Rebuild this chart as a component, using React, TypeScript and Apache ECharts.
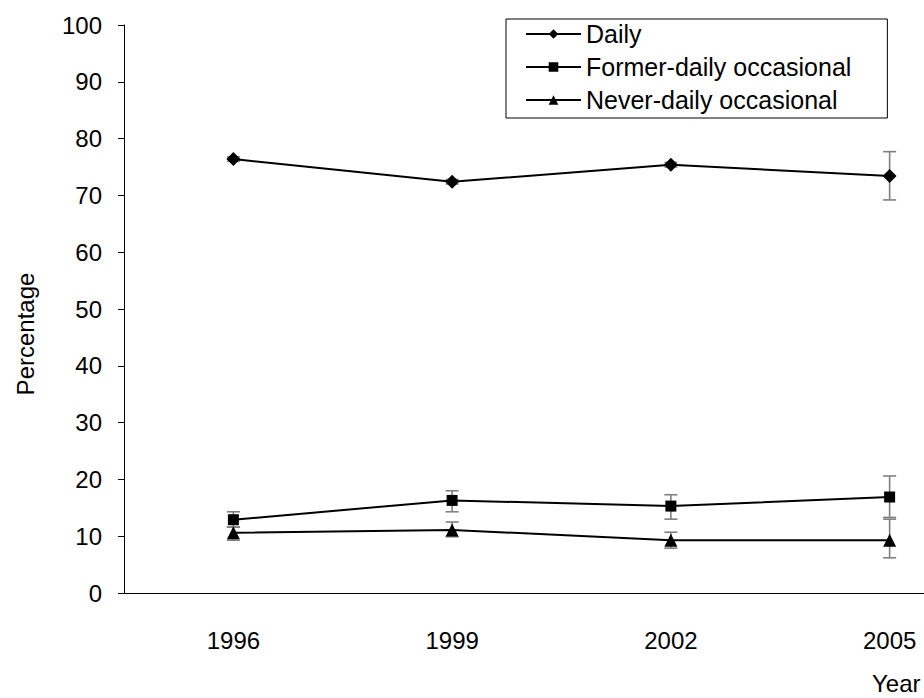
import React, { useEffect, useRef } from "react";
import * as echarts from "echarts";

const years = ["1996", "1999", "2002", "2005"];
const yTicks = [0, 10, 20, 30, 40, 50, 60, 70, 80, 90, 100];

const dailyValues = [76.4, 72.4, 75.4, 73.4];
const dailyLow = [76.0, 72.0, 75.0, 69.2];
const dailyHigh = [76.8, 72.8, 75.8, 77.7];

const formerValues = [12.9, 16.3, 15.3, 16.9];
const formerLow = [11.6, 14.3, 13.0, 13.3];
const formerHigh = [14.3, 18.0, 17.3, 20.6];

const neverValues = [10.6, 11.1, 9.3, 9.3];
const neverLow = [9.3, 9.9, 7.9, 6.2];
const neverHigh = [11.6, 12.5, 10.7, 13.0];

const seriesNames = ["Daily", "Former-daily occasional", "Never-daily occasional"];

const FONT = "'Liberation Sans', Arial, sans-serif";

export default function App() {
  const ref = useRef<HTMLDivElement>(null);
  useEffect(() => {
    if (!ref.current) return;
    const chart = echarts.init(ref.current, null, { renderer: "svg" });

    const errData: number[][] = [];
    [[dailyLow, dailyHigh], [formerLow, formerHigh], [neverLow, neverHigh]].forEach(([lo, hi]) => {
      years.forEach((_, i) => errData.push([i, lo[i], hi[i]]));
    });

    const lineSeries = (name: string, data: number[], symbol: string, size: number) => ({
      name,
      type: "line",
      data,
      symbol,
      symbolSize: size,
      z: 3,
      lineStyle: { color: "#000", width: 2 },
      itemStyle: { color: "#000" },
      emphasis: { disabled: true },
    });

    chart.setOption({
      animation: false,
      backgroundColor: "#fff",
      textStyle: { fontFamily: FONT },
      grid: { left: 124, top: 25, width: 875, height: 568, containLabel: false },
      legend: {
        left: 506,
        top: 19,
        orient: "vertical",
        align: "left",
        data: seriesNames,
        itemWidth: 55,
        itemHeight: 12,
        itemGap: 5,
        padding: [1, 36, 4, 19],
        borderColor: "#000",
        borderWidth: 1,
        textStyle: { fontSize: 25, lineHeight: 28, color: "#000", fontFamily: FONT },
      },
      xAxis: {
        type: "category",
        data: years,
        boundaryGap: true,
        axisLine: { lineStyle: { color: "#000", width: 1 } },
        axisTick: { alignWithLabel: true, length: 7, lineStyle: { color: "#000" } },
        axisLabel: { fontSize: 24, color: "#000", margin: 35, fontFamily: FONT },
        splitLine: { show: false },
      },
      yAxis: {
        type: "value",
        min: 0,
        max: 100,
        interval: 10,
        axisLine: { show: true, lineStyle: { color: "#000", width: 1 } },
        axisTick: { show: true, length: 6, lineStyle: { color: "#000" } },
        axisLabel: { fontSize: 24, color: "#000", margin: 22, fontFamily: FONT,
          formatter: (v: number) => (yTicks.includes(v) ? String(v) : "") },
        splitLine: { show: false },
      },
      graphic: [
        {
          type: "text",
          x: 25,
          y: 334,
          rotation: Math.PI / 2,
          style: { text: "Percentage", fontSize: 24, fill: "#000", fontFamily: FONT,
            align: "center", verticalAlign: "middle" },
        },
        {
          type: "text",
          left: 872,
          top: 671,
          style: { text: "Year", fontSize: 24, fill: "#000", fontFamily: FONT },
        },
      ],
      series: [
        {
          type: "custom",
          name: "err",
          z: 1,
          data: errData,
          renderItem: (_params: any, api: any) => {
            const idx = api.value(0);
            const lo = api.coord([idx, api.value(1)]);
            const hi = api.coord([idx, api.value(2)]);
            const w = 6.5;
            const style = { stroke: "#7f7f7f", lineWidth: 1.6 };
            return {
              type: "group",
              children: [
                { type: "line", shape: { x1: lo[0], y1: lo[1], x2: hi[0], y2: hi[1] }, style },
                { type: "line", shape: { x1: lo[0] - w, y1: lo[1], x2: lo[0] + w, y2: lo[1] }, style },
                { type: "line", shape: { x1: hi[0] - w, y1: hi[1], x2: hi[0] + w, y2: hi[1] }, style },
              ],
            };
          },
        },
        lineSeries(seriesNames[0], dailyValues, "diamond", 14),
        lineSeries(seriesNames[1], formerValues, "rect", 11),
        lineSeries(seriesNames[2], neverValues, "triangle", 13),
      ],
    });
    return () => chart.dispose();
  }, []);
  return (
    <div
      ref={ref}
      style={{ position: "fixed", left: 0, top: 0, width: 1000, height: 698, background: "#fff" }}
    />
  );
}
